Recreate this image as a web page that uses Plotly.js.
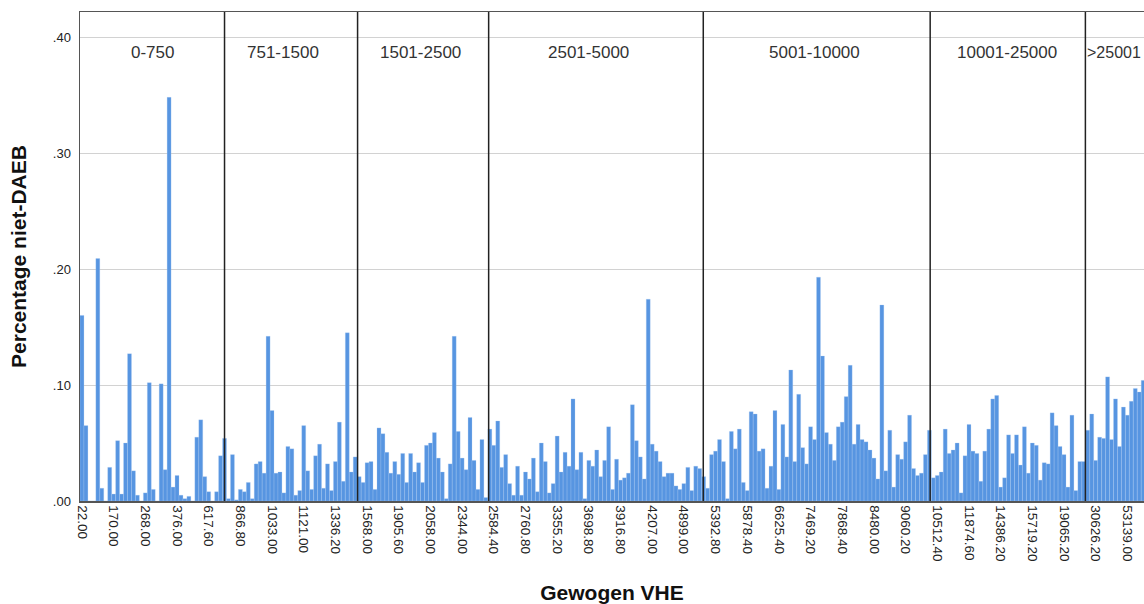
<!DOCTYPE html>
<html><head><meta charset="utf-8">
<script src="https://cdn.plot.ly/plotly-3.0.1.min.js"></script>
<style>html,body{margin:0;padding:0;background:#fff}#chart{width:1144px;height:604px}</style>
</head><body><div id="chart"></div>
<script>
// Percentage niet-DAEB per category of Gewogen VHE, per size group
const g1 = [0.160,0.065,0,0,0.209,0.011,0,0.029,0.006,0.052,0.006,0.050,0.127,0.026,0.005,0,0.007,0.102,0.010,0,0.101,0.027,0.348,0.012,0.022,0.005,0.002,0.004,0,0.055,0.070,0.021,0.008,0,0.008,0.039];
const g2 = [0.054,0.002,0.040,0.001,0.010,0.008,0.016,0.002,0.032,0.034,0.024,0.142,0.078,0.024,0.025,0.007,0.047,0.045,0.005,0.009,0.065,0.026,0.010,0.039,0.049,0.011,0.032,0.009,0.034,0.068,0.017,0.145,0.025,0.038];
const g3 = [0.021,0.016,0.033,0.034,0.010,0.063,0.058,0.042,0.024,0.034,0.023,0.041,0.016,0.041,0.025,0.033,0.016,0.048,0.050,0.059,0.037,0.025,0.002,0.032,0.142,0.060,0.037,0.027,0.072,0.035,0.010,0.053,0.003];
const g4 = [0.062,0.048,0.069,0.029,0.040,0.015,0.005,0.030,0.005,0.025,0.019,0.037,0.008,0.050,0.034,0.007,0.015,0.056,0.025,0.042,0.030,0.088,0.027,0.042,0.002,0.035,0.030,0.044,0.021,0.035,0.064,0.010,0.036,0.018,0.020,0.024,0.083,0.052,0.038,0.019,0.174,0.049,0.043,0.034,0.021,0.024,0.024,0.013,0.010,0.015,0.029,0.009,0.030,0.028];
const g5 = [0.021,0.011,0.040,0.043,0.053,0.034,0.002,0.060,0.045,0.062,0.016,0.009,0.077,0.075,0.043,0.045,0.011,0.030,0.078,0.010,0.066,0.038,0.113,0.034,0.092,0.046,0.032,0.064,0.053,0.193,0.125,0.059,0.049,0.035,0.064,0.068,0.090,0.117,0.049,0.066,0.053,0.051,0.044,0.037,0.019,0.169,0.026,0.061,0.012,0.040,0.036,0.051,0.074,0.028,0.022,0.024,0.040];
const g6 = [0.061,0.020,0.022,0.025,0.062,0.041,0.044,0.050,0.007,0.039,0.066,0.043,0.041,0.017,0.043,0.062,0.088,0.091,0.012,0.020,0.057,0.041,0.057,0.031,0.064,0.024,0.050,0.048,0.018,0.033,0.032,0.076,0.065,0.047,0.040,0.012,0.074,0.009,0.034];
const g7 = [0.034,0.061,0.075,0.035,0.055,0.054,0.107,0.053,0.088,0.047,0.081,0.074,0.086,0.097,0.094,0.104,0.100];

const values = [].concat(g1, g2, g3, g4, g5, g6, g7);
const categoryIndex = values.map((_, i) => i);

const tickLabels = ['22.00','170.00','268.00','376.00','617.60','866.80','1033.00','1121.00','1336.20','1568.00','1905.60','2058.00','2344.00','2584.40','2760.80','3355.20','3698.80','3916.80','4207.00','4899.00','5392.80','5878.40','6625.40','7469.20','7868.40','8480.00','9060.20','10512.40','11874.60','14386.20','15719.20','19065.20','30626.20','53139.00'];
const tickEvery = 8;
const tickPos = tickLabels.map((_, i) => i * tickEvery);

const yTickVals = [0, 0.1, 0.2, 0.3, 0.4];
const yTickText = ['.00', '.10', '.20', '.30', '.40'];

const groupNames = ['0-750','751-1500','1501-2500','2501-5000','5001-10000','10001-25000','>25001'];
const groupBreaks = [36.0, 69.6, 102.7, 156.9, 214.2, 253.4];
const groupLabelX = [17.9, 50.8, 85.6, 127.8, 185.1, 233.6];
const groupLabelY = 0.387;

const trace = {
  type: 'bar', x: categoryIndex, y: values,
  marker: {color: '#5795e1', line: {color: 'rgba(175,205,245,0.9)', width: 0.3}},
  hoverinfo: 'skip'
};

const annotations = groupNames.map((name, i) => {
  const last = i === groupNames.length - 1;
  return {
    text: name, xref: last ? 'paper' : 'x', yref: 'y',
    x: last ? 1 : groupLabelX[i], y: groupLabelY,
    xanchor: last ? 'right' : 'center', yanchor: 'middle', xshift: last ? -1 : 0,
    showarrow: false, font: {size: last ? 16 : 17, color: '#333'}
  };
});

const layout = {
  width: 1144, height: 604,
  margin: {l: 80, r: 0, t: 12, b: 103},
  bargap: 0,
  plot_bgcolor: '#ffffff', paper_bgcolor: '#ffffff',
  showlegend: false,
  font: {family: 'Arial, "Liberation Sans", sans-serif', color: '#222'},
  xaxis: {
    range: [-0.5, 268.2], tickmode: 'array', tickvals: tickPos, ticktext: tickLabels,
    tickangle: 90, tickfont: {size: 13.5, color: '#222'}, ticks: '',
    showgrid: false, zeroline: false, showline: true, mirror: true,
    linecolor: '#555', linewidth: 1.5, automargin: false,
    title: {text: 'Gewogen VHE', font: {size: 21, weight: 'bold', color: '#111'}, standoff: 27}
  },
  yaxis: {
    range: [0, 0.4216], tickmode: 'array', tickvals: yTickVals, ticktext: yTickText,
    tickfont: {size: 13, color: '#222'}, ticks: '', ticklabelstandoff: 5,
    showgrid: true, gridcolor: '#d2d2d2', gridwidth: 1, zeroline: false,
    showline: true, linecolor: '#555', linewidth: 1.5, automargin: false,
    title: {text: 'Percentage niet-DAEB', font: {size: 21, weight: 'bold', color: '#111'}, standoff: 20}
  },
  shapes: groupBreaks.map(b => ({
    type: 'line', xref: 'x', yref: 'paper', x0: b, x1: b, y0: 0, y1: 1,
    line: {color: '#222', width: 1.5}
  })),
  annotations: annotations
};

Plotly.newPlot('chart', [trace], layout, {displayModeBar: false, staticPlot: true});
</script>
</body></html>
